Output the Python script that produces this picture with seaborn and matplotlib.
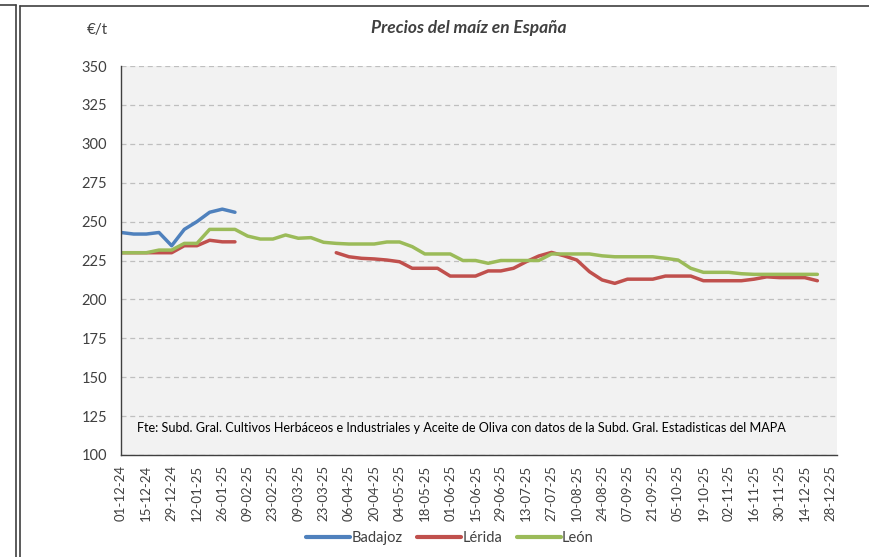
import numpy as np
import pandas as pd
import matplotlib
matplotlib.use("Agg")
import matplotlib.pyplot as plt
from matplotlib.lines import Line2D
import seaborn as sns

# Precios semanales (€/t), semana 0 = 01-12-24
badajoz = [243, 242, 242, 243, 234.5, 245, 250, 256, 258, 256]

lerida_a = [230, 230, 230, 230, 230, 234.5, 234.5, 238, 237, 237]
lerida_b = [230, 227.4, 226.4, 226, 225.3, 224.2, 220, 220, 220, 215,
            215, 215, 218.3, 218.3, 220, 224.2, 227.9, 230.2, 228, 225.3,
            217.8, 212.5, 210.3, 213, 213, 213, 215, 215, 215, 212,
            212, 212, 212, 213, 214.5, 214, 214, 214, 212]
lerida_b_start = 17

leon = [230, 230, 230, 231.7, 231.7, 236, 236, 245, 245, 245,
        240.7, 238.8, 238.8, 241.4, 239.3, 239.7, 236.7, 236, 235.6, 235.6,
        235.6, 236.9, 236.9, 233.9, 229.2, 229.2, 229.2, 225, 225, 223.2,
        225, 225, 225, 225, 229.2, 229.2, 229.2, 229.2, 228, 227.4,
        227.4, 227.4, 227.4, 226.4, 225.3, 220, 217.4, 217.4, 217.4, 216.5,
        216.1, 216.1, 216.1, 216.1, 216.1, 216.1]

tick_dates = pd.date_range("2024-12-01", "2025-12-28", freq="14D")
tick_labels = [d.strftime("%d-%m-%y") for d in tick_dates]

colors = {"Badajoz": "#4f81bd", "Lérida": "#c0504d", "León": "#9bbb59"}
source = ("Fte: Subd. Gral. Cultivos Herbáceos e Industriales y Aceite de Oliva "
          "con datos de la Subd. Gral. Estadisticas del MAPA")

sns.set_style("white")
plt.rcParams["font.family"] = ["Lato", "DejaVu Sans"]

fig = plt.figure(figsize=(8.7, 5.57), dpi=100)
ax = fig.add_axes([121 / 870, 1 - 455 / 557, (837 - 121) / 870, (455 - 66) / 557])
ax.set_facecolor("#f2f2f2")

lw = 2.5
sns.lineplot(x=np.arange(len(badajoz)), y=badajoz, color=colors["Badajoz"], lw=lw, ax=ax)
sns.lineplot(x=np.arange(len(lerida_a)), y=lerida_a, color=colors["Lérida"], lw=lw, ax=ax)
sns.lineplot(x=np.arange(lerida_b_start, lerida_b_start + len(lerida_b)), y=lerida_b,
             color=colors["Lérida"], lw=lw, ax=ax)
sns.lineplot(x=np.arange(len(leon)), y=leon, color=colors["León"], lw=lw, ax=ax)

ax.set_ylim(100, 350)
ax.set_yticks(np.arange(100, 351, 25))
ax.set_xlim(0, 56.55)
ax.set_xticks(np.arange(0, 2 * len(tick_labels), 2))
ax.set_xticklabels(tick_labels, rotation=90, fontsize=9.5, color="#404040")
ax.tick_params(axis="y", labelsize=10.5, colors="#404040", length=0, pad=10)
ax.tick_params(axis="x", length=4, width=1, color="#404040", pad=3, direction="out")
ax.grid(axis="y", color="#bfbfbf", linestyle=(0, (4, 3)), lw=0.9)
ax.set_axisbelow(True)
for side in ["top", "right"]:
    ax.spines[side].set_visible(False)
for side in ["left", "bottom"]:
    ax.spines[side].set_color("#404040")
    ax.spines[side].set_linewidth(1)
ax.set_xlabel("")
ax.set_ylabel("")

ax.text(0.022, 0.07, source, transform=ax.transAxes, fontsize=9.1, color="#000000",
        va="center", ha="left")

fig.text(97 / 870, 1 - 30 / 557, "€/t", fontsize=11, color="#404040", ha="center", va="center")
fig.text(469 / 870, 1 - 28 / 557, "Precios del maíz en España", fontsize=12.5,
         fontweight="bold", fontstyle="italic", color="#404040", ha="center", va="center")

handles = [Line2D([0], [0], color=c, lw=3) for c in colors.values()]
fig.legend(handles, list(colors.keys()), loc="center", bbox_to_anchor=(450 / 870, 1 - 538 / 557),
           ncol=3, frameon=False, fontsize=10.5, handlelength=3.0, handletextpad=0.1,
           columnspacing=1.0, labelcolor="#404040")

# marcos exteriores
for x in [16, 20]:
    fig.add_artist(Line2D([x / 870, x / 870], [0, 1 - (5 if x == 16 else 6) / 557],
                          color="#404040", lw=1.2))
fig.add_artist(Line2D([0, 16 / 870], [1 - 5 / 557, 1 - 5 / 557], color="#404040", lw=1.2))
fig.add_artist(Line2D([20 / 870, 1], [1 - 6 / 557, 1 - 6 / 557], color="#404040", lw=1.2))

fig.savefig("out.png", dpi=100)
